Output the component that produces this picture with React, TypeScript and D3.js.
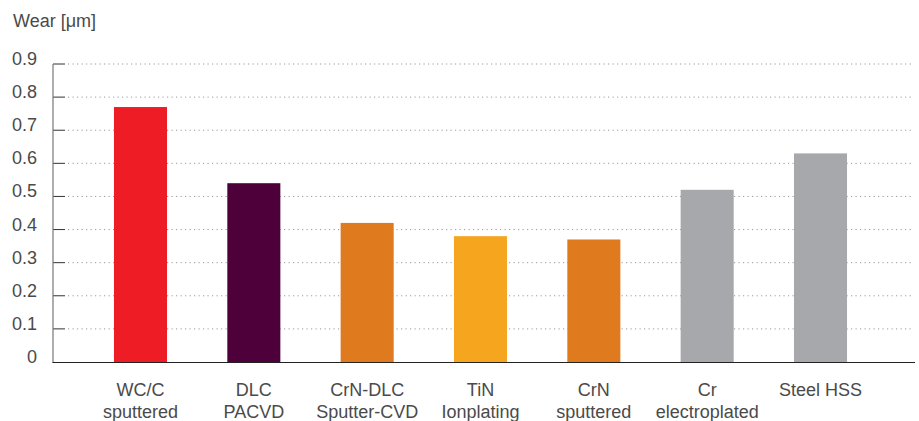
import React from "react";
import * as d3 from "d3";

const categories = [
  ["WC/C", "sputtered"],
  ["DLC", "PACVD"],
  ["CrN-DLC", "Sputter-CVD"],
  ["TiN", "Ionplating"],
  ["CrN", "sputtered"],
  ["Cr", "electroplated"],
  ["Steel HSS", ""],
];
const values = [0.77, 0.54, 0.42, 0.38, 0.37, 0.52, 0.63];
const colors = ["#EE1D25", "#4E003A", "#E07A1F", "#F6A51F", "#E07A1F", "#A7A8AB", "#A7A8AB"];
const yTicks = [0, 0.1, 0.2, 0.3, 0.4, 0.5, 0.6, 0.7, 0.8, 0.9];
const yTitle = "Wear [μm]";

const W = 919;
const H = 421;
const FONT = "'Liberation Sans', Arial, Helvetica, sans-serif";
const TEXT = "#4a4a4a";

export default function App() {
  const keys = categories.map((c) => c.join(" "));
  const x = d3
    .scaleBand<string>()
    .domain(keys)
    .range([53, 908])
    .paddingInner(0.532)
    .paddingOuter(0.538);
  const y = d3.scaleLinear().domain([0, 0.9]).range([362, 64]);

  return (
    <svg
      width={W}
      height={H}
      style={{ position: "absolute", left: 0, top: 0, background: "#fff" }}
      fontFamily={FONT}
    >
      <text x={13} y={27} fontSize={18} fill={TEXT}>
        {yTitle}
      </text>
      {yTicks.map((t) => (
        <g key={t}>
          {t > 0 && (
            <line
              x1={68}
              x2={912}
              y1={y(t)}
              y2={y(t)}
              stroke="#9a9a9a"
              strokeWidth={1}
              strokeDasharray="1.2,3.3"
            />
          )}
          {t > 0 && (
            <line x1={53} x2={65} y1={y(t)} y2={y(t)} stroke="#333" strokeWidth={1} />
          )}
          <text
            x={37}
            y={y(t) + 1}
            fontSize={18}
            fill={TEXT}
            textAnchor="end"
          >
            {d3.format(t === 0 ? "d" : ".1f")(t)}
          </text>
        </g>
      ))}
      {values.map((v, i) => (
        <rect
          key={keys[i]}
          x={x(keys[i])}
          width={x.bandwidth()}
          y={y(v)}
          height={y(0) - y(v)}
          fill={colors[i]}
        />
      ))}
      <line x1={53} x2={53} y1={y(0.9)} y2={y(0) + 0.5} stroke="#777" strokeWidth={1.2} />
      <line x1={52.5} x2={915} y1={y(0) + 0.5} y2={y(0) + 0.5} stroke="#222" strokeWidth={1.2} />
      {categories.map((c, i) => {
        const cx = (x(keys[i]) as number) + x.bandwidth() / 2;
        return (
          <text key={keys[i]} x={cx} fontSize={18} fill={TEXT} textAnchor="middle">
            <tspan x={cx} y={396}>
              {c[0]}
            </tspan>
            {c[1] && (
              <tspan x={cx} y={418}>
                {c[1]}
              </tspan>
            )}
          </text>
        );
      })}
    </svg>
  );
}
